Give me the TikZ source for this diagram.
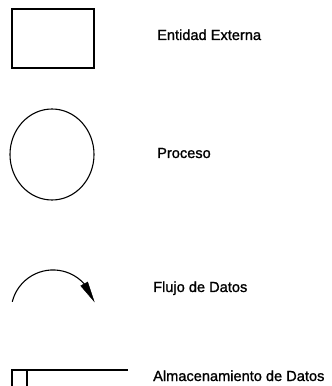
\documentclass[tikz,border=0pt]{standalone}
\usepackage{fontspec}
\setmainfont[FakeBold=1.2]{Liberation Sans}
\usetikzlibrary{arrows.meta,shapes.geometric}
\begin{document}
\begin{tikzpicture}[x=1pt,y=1pt,
  symline/.style={draw=black,line width=1.1pt},
  headfill/.style={fill=black,draw=black,line width=0.4pt,line join=miter},
  label/.style={anchor=base west,inner sep=0pt,font=\fontsize{14.6pt}{16pt}\selectfont}]
\useasboundingbox (0,0) rectangle (332,386);
% Entidad Externa
\node[symline,rectangle,minimum width=82pt,minimum height=59pt,inner sep=0pt] (ent) at (53,347.5) {};
\node[label] (entlbl) at (157,346) {Entidad Externa};
% Proceso
\node[symline,ellipse,minimum width=84pt,minimum height=91pt,inner sep=0pt] (proc) at (52,231.5) {};
\node[label] (proclbl) at (157,228) {Proceso};
% Flujo de Datos
\coordinate (fc) at (53,74);
\coordinate (fs) at (12.25,84.2);
\coordinate (fb) at (84.2,102.1);
\coordinate (fbl) at (80.7,100.2);
\coordinate (fbr) at (87.7,104.0);
\coordinate (ft) at (94.2,84.5);
\draw[symline] (fs) arc[start angle=166,end angle=42,radius=42];
\fill[headfill] (fbl) -- (fbr) -- (ft) -- cycle;
\node[label] (flulbl) at (153,94) {Flujo de Datos};
% Almacenamiento de Datos
\coordinate (s1) at (12,0);
\coordinate (s2) at (12,16);
\coordinate (s3) at (128,16);
\coordinate (s4) at (27,16);
\coordinate (s5) at (27,0);
\draw[symline] (s1) -- (s2) -- (s3);
\draw[symline] (s4) -- (s5);
\node[label] (almlbl) at (153,5) {Almacenamiento de Datos};
\end{tikzpicture}
\end{document}
